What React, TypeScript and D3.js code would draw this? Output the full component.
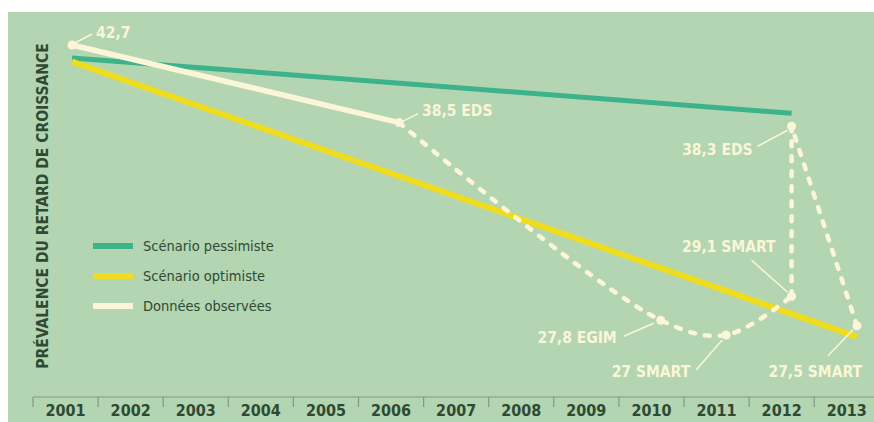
import React from "react";
import * as d3 from "d3";

// ---- data ----
const years = [2001, 2002, 2003, 2004, 2005, 2006, 2007, 2008, 2009, 2010, 2011, 2012, 2013];
const pessimistYears = [2001, 2012];
const pessimistValues = [42.0, 39.0];
const optimistYears = [2001, 2013];
const optimistValues = [41.8, 26.9];
const observedSolidYears = [2001, 2006];
const observedSolidValues = [42.7, 38.5];
const observedCurveYears = [2006, 2010, 2011, 2012];
const observedCurveValues = [38.5, 27.8, 27.0, 29.1];
const observedJumpYears = [2012, 2012, 2013];
const observedJumpValues = [29.1, 38.3, 27.5];
const pointYears = [2001, 2006, 2010, 2011, 2012, 2012, 2013];
const pointValues = [42.7, 38.5, 27.8, 27.0, 29.1, 38.3, 27.5];
const pointLabels = ["42,7", "38,5 EDS", "27,8 EGIM", "27 SMART", "29,1 SMART", "38,3 EDS", "27,5 SMART"];
const legendLabels = ["Scénario pessimiste", "Scénario optimiste", "Données observées"];
const yTitle = "PRÉVALENCE DU RETARD DE CROISSANCE";

// ---- layout (styling, not data) ----
const W = 874;
const H = 422;
const BG = "#b3d5b1";
const TEAL = "#3db38c";
const YELLOW = "#f0dc1e";
const CREAM = "#fcf6d8";
const DARK = "#2f4a33";
const FONT = "'DejaVu Sans Condensed', 'DejaVu Sans', sans-serif";

// label offsets relative to their point: text x/y, anchor, leader from/to
const labelLayout = [
  { tx: 24, ty: -7, anchor: "start", l1: [20, -11], l2: [3, -2] },
  { tx: 23, ty: -7, anchor: "start", l1: [19, -9], l2: [3, -1] },
  { tx: -44, ty: 23, anchor: "end", l1: [-37, 16], l2: [-7, 3] },
  { tx: -36, ty: 42, anchor: "end", l1: [-30, 35], l2: [-4, 5] },
  { tx: -16, ty: -44, anchor: "end", l1: [-40, -36], l2: [-4, -4] },
  { tx: -39, ty: 29, anchor: "end", l1: [-34, 20], l2: [-4, 4] },
  { tx: 5, ty: 51, anchor: "end", l1: [-29, 30], l2: [-4, 4] },
];

export default function App() {
  const x = d3.scaleLinear().domain([2001, 2013]).range([72, 857]);
  const y = d3.scaleLinear().domain([27, 42.7]).range([335, 45]);
  const band = d3
    .scaleBand<number>()
    .domain(years)
    .range([33, 33 + 65.1 * years.length])
    .padding(0);

  const straight = d3
    .line<[number, number]>()
    .x((d) => x(d[0]))
    .y((d) => y(d[1]));
  const curved = d3
    .line<[number, number]>()
    .x((d) => x(d[0]))
    .y((d) => y(d[1]))
    .curve(d3.curveCatmullRom.alpha(0.5));

  const zip = (a: number[], b: number[]) => a.map((v, i) => [v, b[i]] as [number, number]);

  const axisY = 397;

  return (
    <svg
      width={W}
      height={H}
      style={{ position: "absolute", left: 0, top: 0, background: "#ffffff" }}
    >
      <rect x={8} y={12} width={W - 8} height={H - 12} fill={BG} />

      {/* y title */}
      <text
        transform={`translate(48, 206) rotate(-90)`}
        textAnchor="middle"
        fontFamily={FONT}
        fontWeight="bold"
        fontSize={15.5}
        fill={DARK}
      >
        {yTitle}
      </text>

      {/* scenario lines */}
      <path
        d={straight(zip(pessimistYears, pessimistValues)) || ""}
        stroke={TEAL}
        strokeWidth={5}
        fill="none"
      />
      <path
        d={straight(zip(optimistYears, optimistValues)) || ""}
        stroke={YELLOW}
        strokeWidth={6}
        fill="none"
      />

      {/* observed */}
      <path
        d={straight(zip(observedSolidYears, observedSolidValues)) || ""}
        stroke={CREAM}
        strokeWidth={5.5}
        strokeLinecap="round"
        fill="none"
      />
      <path
        d={curved(zip(observedCurveYears, observedCurveValues)) || ""}
        stroke={CREAM}
        strokeWidth={4.5}
        strokeDasharray="5 10"
        strokeLinecap="round"
        fill="none"
      />
      <path
        d={straight(zip(observedJumpYears, observedJumpValues)) || ""}
        stroke={CREAM}
        strokeWidth={4.5}
        strokeDasharray="5 10"
        strokeLinecap="round"
        strokeLinejoin="round"
        fill="none"
      />
      {pointYears.map((yr, i) => (
        <circle key={"p" + i} cx={x(yr)} cy={y(pointValues[i])} r={4.5} fill={CREAM} />
      ))}

      {/* labels */}
      {pointYears.map((yr, i) => {
        const px = x(yr);
        const py = y(pointValues[i]);
        const L = labelLayout[i];
        return (
          <g key={"l" + i}>
            <line
              x1={px + L.l1[0]}
              y1={py + L.l1[1]}
              x2={px + L.l2[0]}
              y2={py + L.l2[1]}
              stroke={CREAM}
              strokeWidth={1.5}
            />
            <text
              x={px + L.tx}
              y={py + L.ty}
              textAnchor={L.anchor as any}
              fontFamily={FONT}
              fontWeight="bold"
              fontSize={15.5}
              fill={CREAM}
            >
              {pointLabels[i]}
            </text>
          </g>
        );
      })}

      {/* legend */}
      {legendLabels.map((lab, i) => (
        <g key={"lg" + i} transform={`translate(93, ${246 + i * 30})`}>
          <line
            x1={0}
            x2={40}
            y1={0}
            y2={0}
            stroke={[TEAL, YELLOW, CREAM][i]}
            strokeWidth={6}
          />
          <text x={50} y={5} fontFamily={FONT} fontSize={14.5} fill={DARK}>
            {lab}
          </text>
        </g>
      ))}

      {/* x axis */}
      <line
        x1={band(years[0])!}
        x2={W}
        y1={axisY}
        y2={axisY}
        stroke="#849a7f"
        strokeWidth={1.2}
      />
      {years.map((yr) => (
        <g key={"t" + yr}>
          <line
            x1={band(yr)!}
            x2={band(yr)!}
            y1={axisY}
            y2={axisY + 10}
            stroke="#849a7f"
            strokeWidth={1.2}
          />
          <text
            x={band(yr)! + band.bandwidth() / 2}
            y={416}
            textAnchor="middle"
            fontFamily={FONT}
            fontWeight="bold"
            fontSize={16}
            fill={DARK}
          >
            {yr}
          </text>
        </g>
      ))}
    </svg>
  );
}
